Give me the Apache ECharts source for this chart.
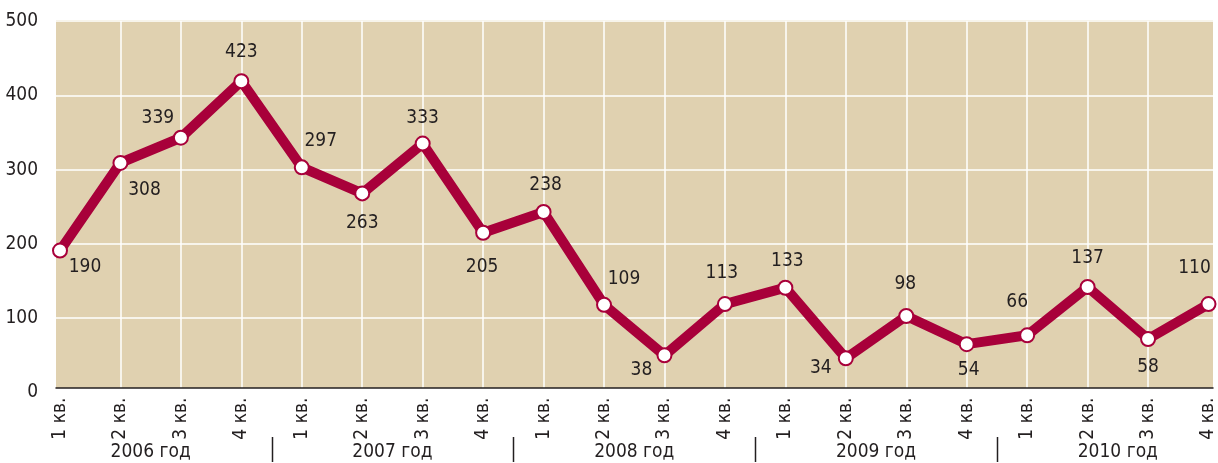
<!DOCTYPE html>
<html>
<head>
<meta charset="utf-8">
<script src="https://cdn.jsdelivr.net/npm/echarts@6/dist/echarts.min.js"></script>
<style>
html,body{margin:0;padding:0;background:#fff;}
#c{width:1218px;height:463px;}
</style>
</head>
<body>
<div id="c"></div>
<script>
// ---- data ----
var quarters = ['1 кв.','2 кв.','3 кв.','4 кв.','1 кв.','2 кв.','3 кв.','4 кв.','1 кв.','2 кв.','3 кв.','4 кв.','1 кв.','2 кв.','3 кв.','4 кв.','1 кв.','2 кв.','3 кв.','4 кв.'];
var years = ['2006 год','2007 год','2008 год','2009 год','2010 год'];
// labelled values
var labelValues = [190,308,339,423,297,263,333,205,238,109,38,113,133,34,98,54,66,137,58,110];
// plotted positions
var plotValues = [191,309,343,419,303,268,335,215,243,118,50,119,141,46,103,65,77,142,72,119];
var yTicks = [0,100,200,300,400,500];

// ---- layout (label offsets, px) ----
var labelOffsets = [[25,16],[24,27],[-23,-20],[0,-29],[19,-26],[0,30],[0,-26],[-1,34],[2,-27],[20,-26],[-23,15],[-3,-31],[2,-27],[-25,10],[-1,-32],[2,26],[-10,-33],[0,-29],[0,28],[-14,-36]];

var FONT = "'Liberation Sans Narrow','DejaVu Sans Condensed','Liberation Sans',sans-serif";
var TXT = '#231f20';
var RED = '#a8003a';
var BEIGE = '#e0d1b0';

var chart = echarts.init(document.getElementById('c'), null, {renderer:'canvas'});

var seriesData = plotValues.map(function(v,i){
  return {
    value: v,
    label: {
      show: true,
      position: 'inside',
      offset: labelOffsets[i],
      formatter: String(labelValues[i])
    }
  };
});

var option = {
  animation: false,
  backgroundColor: '#fff',
  textStyle: {fontFamily: FONT},
  grid: [
    {left:56, right:5, top:20, bottom:75, show:true, backgroundColor:BEIGE, borderWidth:0},
    {left:56, right:5, top:21, bottom:70.5},
    {left:60, right:6.5, top:21, bottom:70.5}
  ],
  xAxis: [
    {gridIndex:0, type:'value', min:0, max:1, axisLabel:{show:false}, axisTick:{show:false}, splitLine:{show:false},
     axisLine:{show:true, lineStyle:{color:'#231f20', width:1.5}}},
    {gridIndex:1, type:'value', min:0, max:1, show:false},
    {gridIndex:2, type:'category', data:quarters, boundaryGap:false,
     axisLine:{show:false}, axisTick:{show:false},
     splitLine:{show:true, interval:function(i){return i>0 && i<quarters.length-1;}, lineStyle:{color:'#ffffff', width:1.5}},
     axisLabel:{rotate:90, margin:5, fontSize:19, color:TXT, fontFamily:FONT, interval:0}}
  ],
  yAxis: [
    {gridIndex:0, type:'value', min:0, max:1, show:false},
    {gridIndex:1, type:'value', min:0, max:500, interval:100,
     axisLine:{show:false}, axisTick:{show:false},
     splitLine:{show:true, lineStyle:{color:'#ffffff', width:1.5}},
     axisLabel:{margin:18, fontSize:19, color:TXT, fontFamily:FONT,
       formatter:function(v){return yTicks.indexOf(v)>=0 ? String(v) : '';}}},
    {gridIndex:2, type:'value', min:0, max:500, show:false}
  ],
  series: [{
    type:'line',
    xAxisIndex:2, yAxisIndex:2,
    data: seriesData,
    lineStyle:{color:RED, width:10, join:'miter'},
    itemStyle:{color:'#ffffff', borderColor:RED, borderWidth:2},
    symbol:'circle', symbolSize:14, showAllSymbol:true,
    label:{fontSize:19, color:TXT, fontFamily:FONT},
    z:5
  }]
};
chart.setOption(option);

// year labels and separators, positioned through the category scale
var g = [];
var px = function(i){ return chart.convertToPixel({xAxisIndex:2}, i); };
var yearY = 452;
for (var k=0; k<years.length; k++){
  var cx = (px(4*k+1) + px(4*k+2))/2;
  g.push({type:'text', x:cx, y:yearY, style:{text:years[k], font:'19px '+FONT, fill:TXT, textAlign:'center', textVerticalAlign:'middle'}});
  if (k < years.length-1){
    var sx = Math.round((px(4*k+3) + px(4*k+4))/2) + 0.5;
    g.push({type:'line', shape:{x1:sx, y1:437, x2:sx, y2:462}, style:{stroke:'#231f20', lineWidth:1.5}});
  }
}
chart.setOption({graphic: g});
</script>
</body>
</html>
